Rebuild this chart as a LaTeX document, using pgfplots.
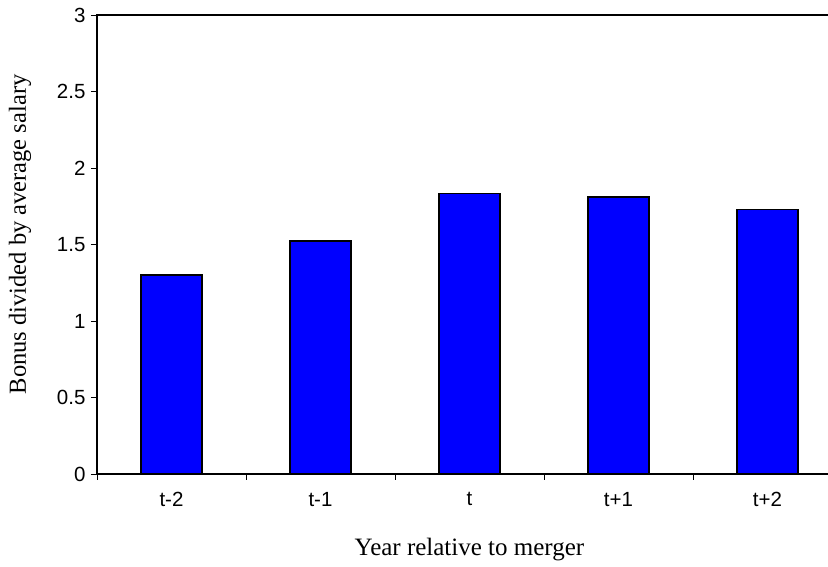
\documentclass[border=0pt]{standalone}
\usepackage{pgfplots}
\pgfplotsset{compat=1.18}
\usepackage{fontspec}
\setmainfont{Liberation Serif}
\newfontfamily\arial{Liberation Sans}
\begin{document}
\begin{tikzpicture}[x=1pt,y=1pt]
\useasboundingbox (0,0) rectangle (828,567);
\begin{axis}[
  at={(97pt,93pt)}, anchor=south west,
  scale only axis, width=745pt, height=459pt,
  xmin=-0.5, xmax=4.5, ymin=0, ymax=3,
  ytick={0,0.5,...,3},
  yticklabels={0,0.5,1,1.5,2,2.5,3},
  xtick={0,1,2,3,4},
  xticklabels={t-2,t-1,t,t+1,t+2},
  minor xtick={-0.5,0.5,1.5,2.5,3.5,4.5},
  major x tick style={draw=none},
  xtick pos=bottom, ytick pos=left,
  tick align=outside,
  major tick length=6pt, minor tick length=6pt,
  tick style={black, line width=0.8pt},
  axis line style={black, line width=1.3pt},
  /pgf/number format/assume math mode=true,
  ticklabel style={font=\arial\fontsize{20.5}{23}\selectfont},
  xticklabel style={yshift=-9pt},
  yticklabel style={xshift=-2pt},
  xlabel={Year relative to merger},
  ylabel={Bonus divided by average salary},
  every axis x label/.style={at={(axis description cs:0.5,0)}, yshift=-76pt, anchor=center, font=\fontsize{25}{27}\selectfont},
  every axis y label/.style={at={(axis description cs:0,0.522)}, xshift=-77pt, rotate=90, anchor=center, font=\fontsize{24.5}{27}\selectfont},
  ybar, bar width=61pt,
  clip=false,
]
\addplot[fill={rgb,255:red,0;green,0;blue,255}, draw=black, line width=1.2pt]
  coordinates {(0,1.30) (1,1.523) (2,1.835) (3,1.81) (4,1.73)};
\end{axis}
\end{tikzpicture}
\end{document}
